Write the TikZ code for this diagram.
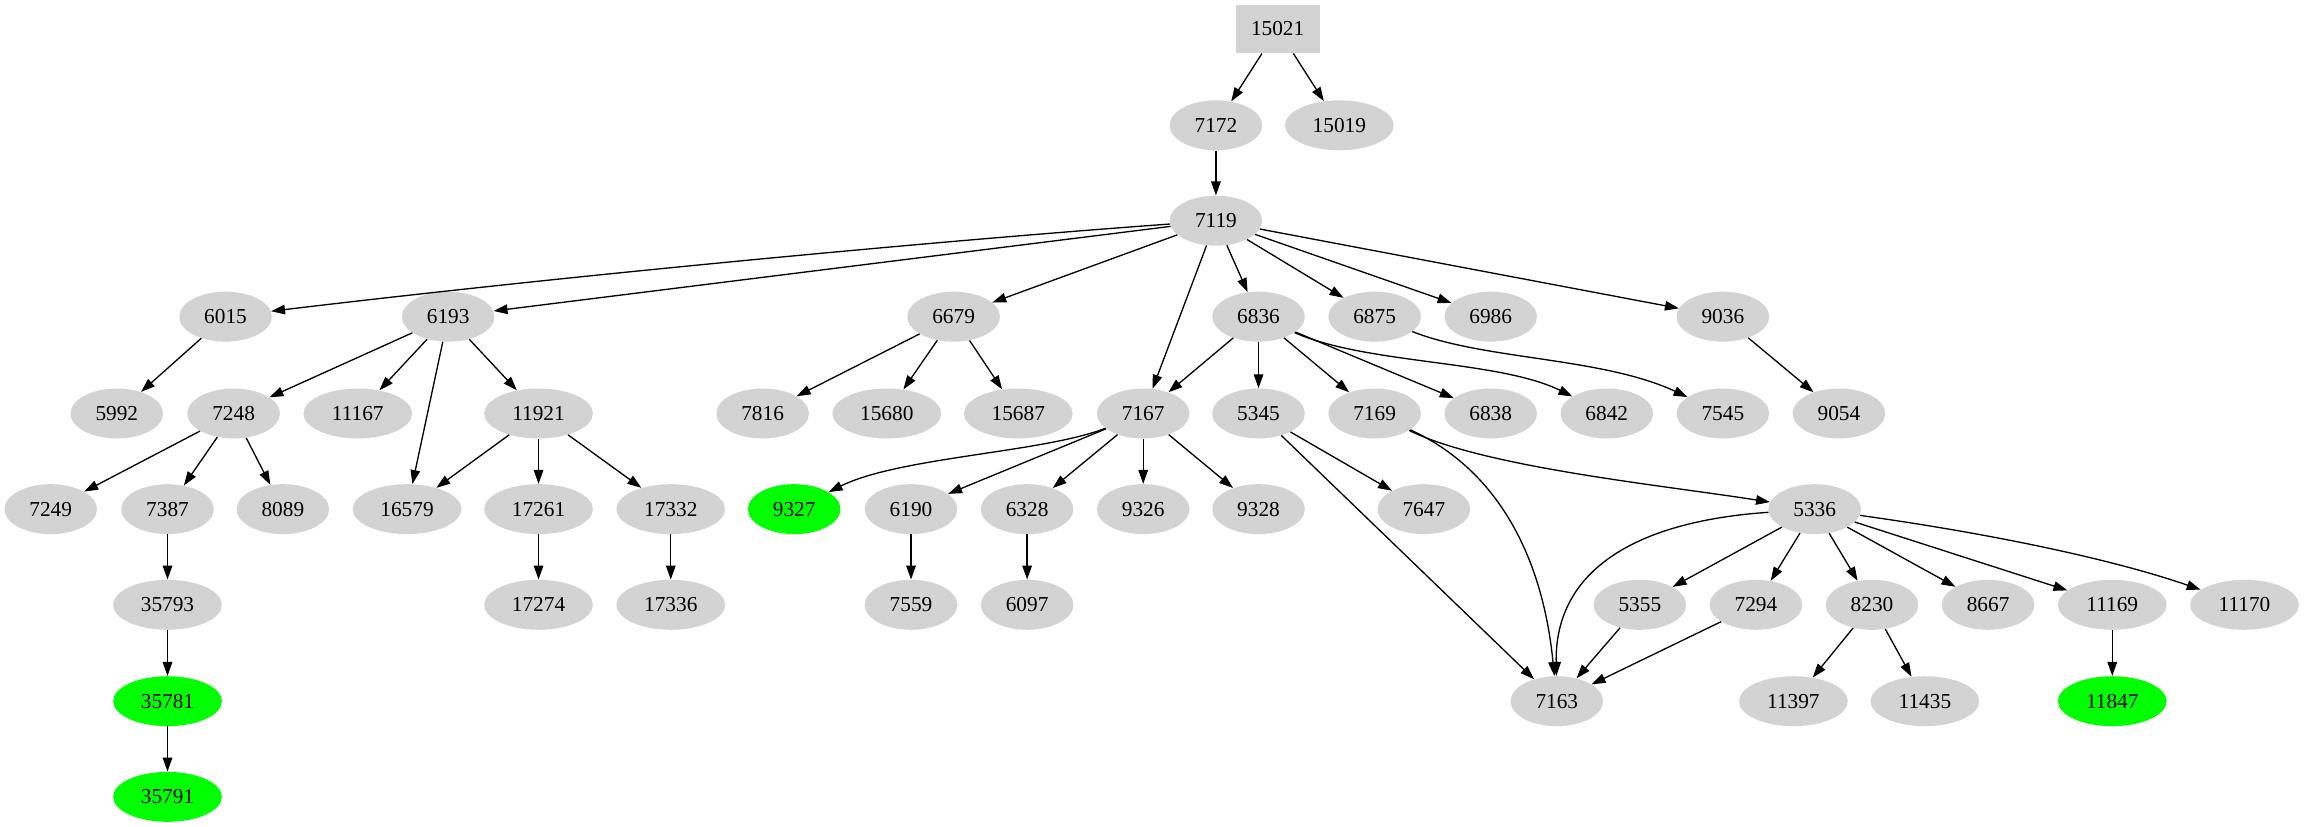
\documentclass[tikz,border=0pt]{standalone}
\usepackage{fontspec}
\setmainfont{Liberation Serif}
\usetikzlibrary{shapes.geometric,arrows.meta}
\definecolor{lg}{RGB}{211,211,211}
\definecolor{gr}{RGB}{0,255,0}
\begin{document}
\begin{tikzpicture}[x=1pt,y=-1pt,
  nd/.style={ellipse,fill=lg,inner sep=0pt,minimum width=63pt,minimum height=34pt,font=\fontsize{14.5}{17}\selectfont},
  wide/.style={minimum width=74pt},
  grn/.style={fill=gr},
  bx/.style={rectangle,fill=lg,inner sep=0pt,minimum width=57pt,minimum height=33pt,font=\fontsize{14.5}{17}\selectfont},
  ed/.style={-{Triangle[length=9.5pt,width=6.5pt]},line width=0.9pt}]
\useasboundingbox (0,0) rectangle (1568,562.8);
% rows
\def\ra{19.7}\def\rb{85.3}\def\rc{150.2}\def\rd{215.5}\def\re{281.4}\def\rf{346.5}\def\rg{411.6}\def\rh{477.2}\def\ri{542.3}
\node[bx] (n15021) at (869.5,\ra) {15021};
\node[nd] (n7172) at (827.5,\rb) {7172};
\node[nd,wide] (n15019) at (911.5,\rb) {15019};
\node[nd] (n7119) at (827.5,\rc) {7119};
% row 3
\node[nd] (n6015) at (153.5,\rd) {6015};
\node[nd] (n6193) at (305,\rd) {6193};
\node[nd] (n6679) at (649,\rd) {6679};
\node[nd] (n6836) at (856.5,\rd) {6836};
\node[nd] (n6875) at (935.5,\rd) {6875};
\node[nd] (n6986) at (1014.5,\rd) {6986};
\node[nd] (n9036) at (1172.5,\rd) {9036};
% row 4
\node[nd] (n5992) at (79.5,\re) {5992};
\node[nd] (n7248) at (159,\re) {7248};
\node[nd,wide] (n11167) at (243.5,\re) {11167};
\node[nd,wide] (n11921) at (366.5,\re) {11921};
\node[nd] (n7816) at (519,\re) {7816};
\node[nd,wide] (n15680) at (603.5,\re) {15680};
\node[nd,wide] (n15687) at (693,\re) {15687};
\node[nd] (n7167) at (778,\re) {7167};
\node[nd] (n5345) at (856.5,\re) {5345};
\node[nd] (n7169) at (935.5,\re) {7169};
\node[nd] (n6838) at (1014.5,\re) {6838};
\node[nd] (n6842) at (1093.5,\re) {6842};
\node[nd] (n7545) at (1172.5,\re) {7545};
\node[nd] (n9054) at (1251.5,\re) {9054};
% row 5
\node[nd] (n7249) at (34.5,\rf) {7249};
\node[nd] (n7387) at (114,\rf) {7387};
\node[nd] (n8089) at (192.5,\rf) {8089};
\node[nd,wide] (n16579) at (277,\rf) {16579};
\node[nd,wide] (n17261) at (366.5,\rf) {17261};
\node[nd,wide] (n17332) at (456.5,\rf) {17332};
\node[nd,grn] (n9327) at (540.5,\rf) {9327};
\node[nd] (n6190) at (620,\rf) {6190};
\node[nd] (n6328) at (699,\rf) {6328};
\node[nd] (n9326) at (778,\rf) {9326};
\node[nd] (n9328) at (856.5,\rf) {9328};
\node[nd] (n7647) at (969,\rf) {7647};
\node[nd] (n5336) at (1235,\rf) {5336};
% row 6
\node[nd,wide] (n35793) at (114,\rg) {35793};
\node[nd,wide] (n17274) at (366.5,\rg) {17274};
\node[nd,wide] (n17336) at (456.5,\rg) {17336};
\node[nd] (n7559) at (620,\rg) {7559};
\node[nd] (n6097) at (699,\rg) {6097};
\node[nd] (n5355) at (1116,\rg) {5355};
\node[nd] (n7294) at (1195,\rg) {7294};
\node[nd] (n8230) at (1274,\rg) {8230};
\node[nd] (n8667) at (1353,\rg) {8667};
\node[nd,wide] (n11169) at (1437.5,\rg) {11169};
\node[nd,wide] (n11170) at (1527.5,\rg) {11170};
% row 7
\node[nd,wide,grn] (n35781) at (114,\rh) {35781};
\node[nd] (n7163) at (1059.5,\rh) {7163};
\node[nd,wide] (n11397) at (1220.5,\rh) {11397};
\node[nd,wide] (n11435) at (1310,\rh) {11435};
\node[nd,wide,grn] (n11847) at (1437.5,\rh) {11847};
% row 8
\node[nd,wide,grn] (n35791) at (114,\ri) {35791};
% edges
\draw[ed] (n15021) -- (n7172);
\draw[ed] (n15021) -- (n15019);
\draw[ed] (n7172) -- (n7119);
\draw[ed] (n7119) .. controls (650,163) and (400,186) .. (n6015);
\draw[ed] (n7119) -- (n6193);
\draw[ed] (n7119) -- (n6679);
\draw[ed] (n7119) -- (n7167);
\draw[ed] (n7119) -- (n6836);
\draw[ed] (n7119) -- (n6875);
\draw[ed] (n7119) -- (n6986);
\draw[ed] (n7119) -- (n9036);
\draw[ed] (n6015) -- (n5992);
\draw[ed] (n6193) -- (n7248);
\draw[ed] (n6193) -- (n11167);
\draw[ed] (n6193) -- (n16579);
\draw[ed] (n6193) -- (n11921);
\draw[ed] (n6679) -- (n7816);
\draw[ed] (n6679) -- (n15680);
\draw[ed] (n6679) -- (n15687);
\draw[ed] (n6836) -- (n7167);
\draw[ed] (n6836) -- (n5345);
\draw[ed] (n6836) -- (n7169);
\draw[ed] (n6836) -- (n6838);
\draw[ed] (n6836) .. controls (930,248) and (1020,245) .. (n6842);
\draw[ed] (n6875) .. controls (1010,245) and (1090,243) .. (n7545);
\draw[ed] (n9036) -- (n9054);
\draw[ed] (n7248) -- (n7249);
\draw[ed] (n7248) -- (n7387);
\draw[ed] (n7248) -- (n8089);
\draw[ed] (n11921) -- (n16579);
\draw[ed] (n11921) -- (n17261);
\draw[ed] (n11921) -- (n17332);
\draw[ed] (n7167) .. controls (710,308) and (612,311) .. (n9327);
\draw[ed] (n7167) -- (n6190);
\draw[ed] (n7167) -- (n6328);
\draw[ed] (n7167) -- (n9326);
\draw[ed] (n7167) -- (n9328);
\draw[ed] (n5345) -- (n7647);
\draw[ed] (n5345) -- (n7163);
\draw[ed] (n7169) .. controls (1020,320) and (1050,380) .. (n7163);
\draw[ed] (n7169) .. controls (1010,318) and (1130,330) .. (n5336);
\draw[ed] (n7387) -- (n35793);
\draw[ed] (n17261) -- (n17274);
\draw[ed] (n17332) -- (n17336);
\draw[ed] (n6190) -- (n7559);
\draw[ed] (n6328) -- (n6097);
\draw[ed] (n5336) .. controls (1110,355) and (1058,390) .. (n7163);
\draw[ed] (n5336) -- (n5355);
\draw[ed] (n5336) -- (n7294);
\draw[ed] (n5336) -- (n8230);
\draw[ed] (n5336) -- (n8667);
\draw[ed] (n5336) -- (n11169);
\draw[ed] (n5336) .. controls (1340,361) and (1430,378) .. (n11170);
\draw[ed] (n5355) -- (n7163);
\draw[ed] (n7294) -- (n7163);
\draw[ed] (n8230) -- (n11397);
\draw[ed] (n8230) -- (n11435);
\draw[ed] (n11169) -- (n11847);
\draw[ed] (n35793) -- (n35781);
\draw[ed] (n35781) -- (n35791);
\end{tikzpicture}
\end{document}
